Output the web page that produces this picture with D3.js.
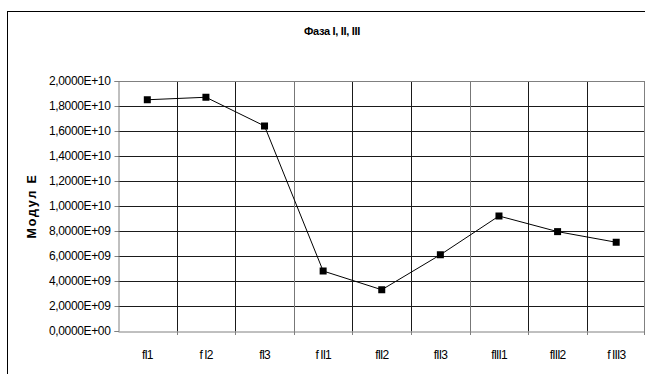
<!DOCTYPE html>
<html>
<head>
<meta charset="utf-8">
<script src="https://cdn.jsdelivr.net/npm/d3@7"></script>
<style>
  html, body { margin: 0; padding: 0; background: #fff; }
  svg { display: block; font-family: "Liberation Sans", Arial, sans-serif; }
</style>
</head>
<body>
<svg id="chart" width="645" height="374"></svg>
<script>
// Modulus E per phase measurement
const categories = ["f I1", "f I2", "f I3", "f II1", "f II2", "f II3", "f III1", "f III2", "f III3"];
const categoryLabels = ["fI1", "f I2", "fI3", "f II1", "fII2", "fII3", "fIII1", "fIII2", "f III3"];
const modulusE = [1.85e10, 1.87e10, 1.64e10, 4.8e9, 3.3e9, 6.1e9, 9.2e9, 7.95e9, 7.1e9];
const yTicks = [0, 2e9, 4e9, 6e9, 8e9, 1e10, 1.2e10, 1.4e10, 1.6e10, 1.8e10, 2e10];
const chartTitle = "Фаза I, II, III";
const yTitle = "Модул Е";

const svg = d3.select("#chart");
const plotLeft = 118, plotRight = 645.5, plotTop = 81, plotBottom = 331;

const x = d3.scaleBand().domain(categories).range([plotLeft, plotRight]);
const y = d3.scaleLinear().domain([0, 2e10]).range([plotBottom, plotTop]);

// outer chart frame
svg.append("rect")
  .attr("x", 7.5).attr("y", 11.5)
  .attr("width", 700).attr("height", 400)
  .attr("fill", "none").attr("stroke", "#000").attr("stroke-width", 1);

// horizontal gridlines
svg.append("g").selectAll("line").data(yTicks.slice(1, -1)).join("line")
  .attr("x1", plotLeft).attr("x2", plotRight)
  .attr("y1", d => Math.round(y(d)) + 0.5).attr("y2", d => Math.round(y(d)) + 0.5)
  .attr("stroke", "#1a1a1a").attr("stroke-width", 1);

// vertical gridlines at category boundaries
svg.append("g").selectAll("line").data(categories.slice(1)).join("line")
  .attr("x1", d => Math.round(x(d)) + 0.5).attr("x2", d => Math.round(x(d)) + 0.5)
  .attr("y1", plotTop).attr("y2", plotBottom)
  .attr("stroke", (d, i) => (i % 3 === 2) ? "#777" : "#1a1a1a").attr("stroke-width", 1);

// plot area top and right edges
svg.append("line")
  .attr("x1", plotLeft).attr("x2", plotRight)
  .attr("y1", Math.round(y(2e10)) + 0.5).attr("y2", Math.round(y(2e10)) + 0.5)
  .attr("stroke", "#808080");
svg.append("line")
  .attr("x1", 644.5).attr("x2", 644.5)
  .attr("y1", plotTop).attr("y2", plotBottom)
  .attr("stroke", "#808080");

const fmt = v => {
  const s = v.toExponential(4).replace(".", ",");
  const [m, e] = s.split("e");
  const sign = e[0] === "-" ? "-" : "+";
  const digits = e.replace(/[+-]/, "").padStart(2, "0");
  return m + "E" + sign + digits;
};

// y axis
const yAxis = svg.append("g")
  .attr("transform", `translate(${plotLeft + 0.5},0)`)
  .call(d3.axisLeft(y).tickValues(yTicks).tickFormat(fmt).tickSize(4).tickPadding(4));
yAxis.select(".domain").attr("stroke", "#808080");
yAxis.selectAll(".tick line").attr("stroke", "#808080");
yAxis.selectAll(".tick text")
  .attr("font-family", "'Liberation Sans', Arial, sans-serif")
  .attr("font-size", 12).attr("letter-spacing", "-0.35px").attr("fill", "#000");

// x axis
const xAxis = svg.append("g")
  .attr("transform", `translate(0,${plotBottom + 0.5})`)
  .call(d3.axisBottom(x).tickSize(0).tickPadding(19).tickFormat((d, i) => categoryLabels[i]));
xAxis.select(".domain").attr("stroke", "#808080");
xAxis.selectAll(".tick text")
  .attr("font-family", "'Liberation Sans', Arial, sans-serif")
  .attr("font-size", 12).attr("letter-spacing", "-0.9px").attr("fill", "#000");
// category boundary tick marks
svg.append("g").selectAll("line").data(categories.slice(1).concat(["end"])).join("line")
  .attr("x1", d => d === "end" ? 644.5 : Math.round(x(d)) + 0.5)
  .attr("x2", d => d === "end" ? 644.5 : Math.round(x(d)) + 0.5)
  .attr("y1", plotBottom).attr("y2", plotBottom + 4)
  .attr("stroke", "#808080");

// series line and markers
const line = d3.line()
  .x((d, i) => x(categories[i]) + x.bandwidth() / 2)
  .y(d => y(d));
svg.append("path").datum(modulusE)
  .attr("d", line).attr("fill", "none").attr("stroke", "#000").attr("stroke-width", 1);
svg.append("g").selectAll("rect").data(modulusE).join("rect")
  .attr("x", (d, i) => x(categories[i]) + x.bandwidth() / 2 - 3.5)
  .attr("y", d => y(d) - 3.5)
  .attr("width", 7).attr("height", 7).attr("fill", "#000");

// titles
svg.append("text")
  .attr("x", 332).attr("y", 35).attr("text-anchor", "middle")
  .attr("font-size", 11).attr("font-weight", "bold").attr("letter-spacing", "-0.3px")
  .text(chartTitle);
svg.append("text")
  .attr("transform", "translate(36,206) rotate(-90)")
  .attr("text-anchor", "middle")
  .attr("font-size", 12.5).attr("font-weight", "bold").attr("letter-spacing", "1.8px")
  .text(yTitle);
</script>
</body>
</html>
